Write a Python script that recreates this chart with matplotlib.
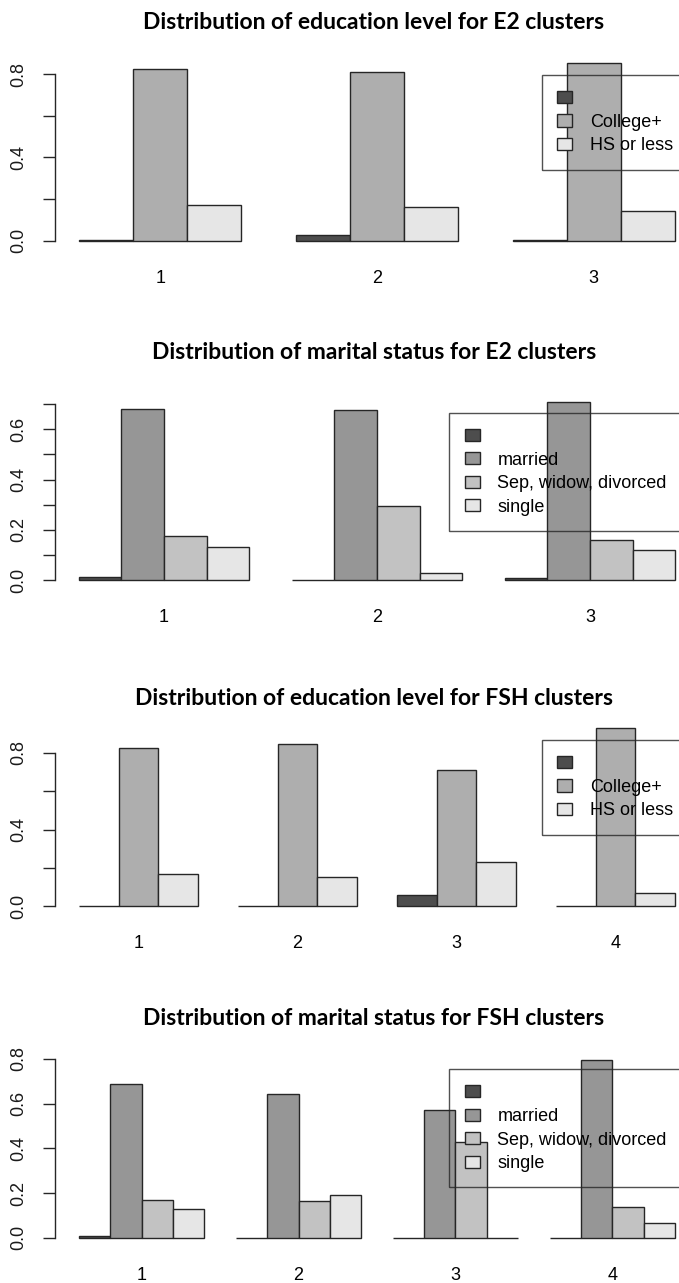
import matplotlib
matplotlib.use("Agg")
import matplotlib.pyplot as plt
from matplotlib.patches import Patch

# ---- data -------------------------------------------------------------
clusters_e2 = ["1", "2", "3"]
clusters_fsh = ["1", "2", "3", "4"]

edu_levels = ["", "College+", "HS or less"]
marital_levels = ["", "married", "Sep, widow, divorced", "single"]

# proportions per cluster, one list per level
edu_e2_blank = [0.004, 0.027, 0.004]
edu_e2_college = [0.824, 0.809, 0.855]
edu_e2_hs = [0.172, 0.164, 0.141]

mar_e2_blank = [0.013, 0.0, 0.010]
mar_e2_married = [0.680, 0.675, 0.707]
mar_e2_sep = [0.176, 0.296, 0.162]
mar_e2_single = [0.131, 0.029, 0.121]

edu_fsh_blank = [0.004, 0.0, 0.057, 0.0]
edu_fsh_college = [0.827, 0.847, 0.711, 0.929]
edu_fsh_hs = [0.169, 0.153, 0.232, 0.071]

mar_fsh_blank = [0.010, 0.0, 0.0, 0.0]
mar_fsh_married = [0.690, 0.645, 0.572, 0.797]
mar_fsh_sep = [0.169, 0.164, 0.428, 0.137]
mar_fsh_single = [0.131, 0.191, 0.0, 0.066]

titles = [
    "Distribution of education level for E2 clusters",
    "Distribution of marital status for E2 clusters",
    "Distribution of education level for FSH clusters",
    "Distribution of marital status for FSH clusters",
]

# ---- style ------------------------------------------------------------
W, H = 679, 1283
DPI = 100
grays3 = ["#4D4D4D", "#AEAEAE", "#E6E6E6"]
grays4 = ["#4D4D4D", "#969696", "#C2C2C2", "#E6E6E6"]
EDGE = "#262626"
plt.rcParams["font.family"] = ["Liberation Sans", "DejaVu Sans"]

fig = plt.figure(figsize=(W / DPI, H / DPI), dpi=DPI)
fig.patch.set_facecolor("white")

# plot regions in pixels: left, top, width, height
AX_LEFT, AX_W, AX_H = 55, 644, 192.5
panel_tops = [55.5, 395.0, 721.0, 1052.5]
title_baselines = [29, 359, 705, 1025]
legend_corners = [(541.7, 75.0), (449.3, 412.7), (541.7, 740.0), (449.3, 1069.3)]


def px_axes(top):
    return fig.add_axes([AX_LEFT / W, 1 - (top + AX_H) / H, AX_W / W, AX_H / H])


def draw_panel(idx, groups, levels, series, colors, yticks, ylabels):
    ax = px_axes(panel_tops[idx])
    n = len(levels)
    lefts_all = []
    for k, (vals, col) in enumerate(zip(series, colors)):
        lefts = [1 + g * (n + 1) + k for g in range(len(groups))]
        lefts_all += lefts
        ax.bar(lefts, vals, width=1.0, align="edge", color=col,
               edgecolor=EDGE, linewidth=1.0, zorder=2)
    lo, hi = min(lefts_all), max(lefts_all) + 1
    span = hi - lo
    ax.set_xlim(lo - 0.04 * span, hi + 0.04 * span)
    top = max(max(v) for v in series)
    ax.set_ylim(-0.04 * top, 1.04 * top)

    centers = [1 + g * (n + 1) + n / 2 for g in range(len(groups))]
    ax.set_xticks(centers)
    ax.set_xticklabels(groups, fontsize=13)
    ax.tick_params(axis="x", length=0, pad=15.5)

    ax.set_yticks(yticks)
    ax.set_yticklabels(ylabels, rotation=90, va="center", fontsize=13,
                       color="#1a1a1a")
    ax.tick_params(axis="y", length=8.6, width=1.0, pad=11.5, color=EDGE)

    for s in ("top", "right", "bottom"):
        ax.spines[s].set_visible(False)
    ax.spines["left"].set_bounds(yticks[0], yticks[-1])
    ax.spines["left"].set_linewidth(1.0)
    ax.spines["left"].set_color(EDGE)
    ax.patch.set_alpha(0)

    handles = [Patch(facecolor=c, edgecolor=EDGE, linewidth=1.0) for c in colors]
    lx, ly = legend_corners[idx]
    leg = ax.legend(handles, levels, loc="upper left",
                    bbox_to_anchor=(lx / W, 1 - ly / H),
                    bbox_transform=fig.transFigure, borderaxespad=0,
                    fontsize=13, frameon=True, fancybox=False,
                    facecolor="none", edgecolor=EDGE, framealpha=None,
                    handlelength=0.83, handleheight=0.65, handletextpad=0.98,
                    labelspacing=0.36, borderpad=0.85)
    leg.get_frame().set_linewidth(1.0)
    leg.set_zorder(5)

    cx = (AX_LEFT + AX_W / 2 - 3) / W
    fig.text(cx, 1 - title_baselines[idx] / H, titles[idx], ha="center",
             va="baseline", fontsize=16.5, fontweight="bold",
             family=["Lato", "DejaVu Sans"])
    return ax


ticks8 = [0.0, 0.2, 0.4, 0.6, 0.8]
ticks7 = [0.0, 0.1, 0.2, 0.3, 0.4, 0.5, 0.6, 0.7]

draw_panel(0, clusters_e2, edu_levels,
           [edu_e2_blank, edu_e2_college, edu_e2_hs], grays3,
           ticks8, ["0.0", "", "0.4", "", "0.8"])
draw_panel(1, clusters_e2, marital_levels,
           [mar_e2_blank, mar_e2_married, mar_e2_sep, mar_e2_single], grays4,
           ticks7, ["0.0", "", "0.2", "", "0.4", "", "0.6", ""])
draw_panel(2, clusters_fsh, edu_levels,
           [edu_fsh_blank, edu_fsh_college, edu_fsh_hs], grays3,
           ticks8, ["0.0", "", "0.4", "", "0.8"])
draw_panel(3, clusters_fsh, marital_levels,
           [mar_fsh_blank, mar_fsh_married, mar_fsh_sep, mar_fsh_single], grays4,
           ticks8, ["0.0", "0.2", "0.4", "0.6", "0.8"])

fig.savefig("out.png", dpi=DPI, facecolor="white")
